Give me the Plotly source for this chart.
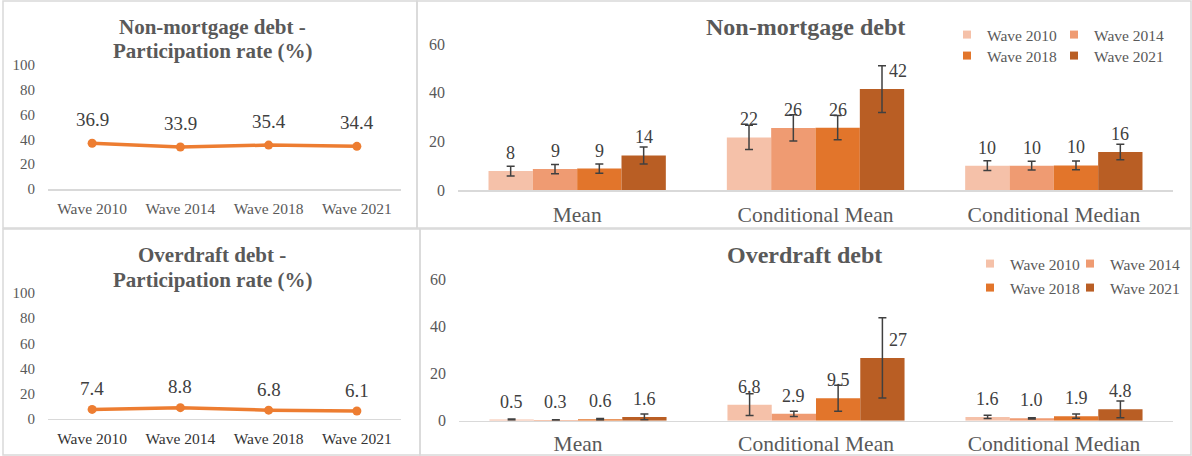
import plotly.graph_objects as go

W, H = 1192, 456

# ---------------- data ----------------
waves = ["Wave 2010", "Wave 2014", "Wave 2018", "Wave 2021"]
stat_categories = ["Mean", "Conditional Mean", "Conditional Median"]

nonmort_participation = [36.9, 33.9, 35.4, 34.4]
overdraft_participation = [7.4, 8.8, 6.8, 6.1]

# values[wave][category]
nonmort_values = [
    [7.8, 21.6, 10.0],
    [8.6, 25.5, 10.0],
    [8.8, 25.6, 10.1],
    [14.2, 41.5, 15.6],
]
nonmort_errors = [
    [2.0, 5.0, 2.0],
    [1.9, 5.4, 1.8],
    [1.9, 5.0, 1.8],
    [3.5, 9.6, 3.2],
]
overdraft_values = [
    [0.5, 6.8, 1.6],
    [0.3, 2.9, 1.0],
    [0.6, 9.5, 1.9],
    [1.6, 26.6, 4.8],
]
overdraft_errors = [
    [0.2, 4.6, 0.7],
    [0.1, 1.1, 0.3],
    [0.3, 5.5, 0.9],
    [1.2, 17.0, 3.5],
]

# ---------------- styles ----------------
FONT = "Liberation Serif"
wave_colors = ["#F5C1A9", "#EF9B72", "#E2752B", "#B95E24"]
LINE_COLOR = "#ED7D31"
TITLE_C = "#595959"
TICK_C = "#595959"
LABEL_C = "#404040"
BORDER_C = "#D9D9D9"
BAR_W = 0.186
label_xshift = {(3, 1): 16}  # (wave, category) -> px


def fx(px):
    return px / W


def fy(py):
    return 1 - py / H


fig = go.Figure()

# ---- line charts ----
for data, xa, ya in [(nonmort_participation, "x", "y"), (overdraft_participation, "x3", "y3")]:
    fig.add_trace(go.Scatter(
        x=waves, y=data, mode="lines+markers", xaxis=xa, yaxis=ya,
        line=dict(color=LINE_COLOR, width=3.5),
        marker=dict(color=LINE_COLOR, size=9),
        showlegend=False, hoverinfo="skip"))

annotations = []
for data, xr, yr, ysh in [(nonmort_participation, "x", "y", 23.5),
                          (overdraft_participation, "x3", "y3", 21)]:
    for w, v in zip(waves, data):
        annotations.append(dict(
            x=w, y=v, xref=xr, yref=yr, text=f"{v:.1f}", showarrow=False,
            yanchor="middle", yshift=ysh,
            font=dict(family=FONT, size=19, color=LABEL_C)))


def fmt_nm(v):
    return f"{v:.0f}"


def fmt_od(v):
    return f"{v:.0f}" if v >= 10 else f"{v:.1f}"


# ---- bar charts ----
for vals, errs, xa, ya, fmt in [
    (nonmort_values, nonmort_errors, "x2", "y2", fmt_nm),
    (overdraft_values, overdraft_errors, "x4", "y4", fmt_od),
]:
    for s, wave in enumerate(waves):
        xs = [c + (s - 1.5) * BAR_W for c in range(len(stat_categories))]
        fig.add_trace(go.Bar(
            x=xs, y=vals[s], width=BAR_W, xaxis=xa, yaxis=ya,
            marker=dict(color=wave_colors[s], line=dict(width=0)),
            error_y=dict(type="data", array=errs[s], color="#404040",
                         thickness=1.5, width=4),
            showlegend=False, hoverinfo="skip", name=wave))
        for c, (xv, v) in enumerate(zip(xs, vals[s])):
            annotations.append(dict(
                x=xv, y=v, xref=xa, yref=ya, text=fmt(v), showarrow=False,
                yanchor="middle", yshift=18, xshift=label_xshift.get((s, c), 0),
                font=dict(family=FONT, size=18, color=LABEL_C)))

fig.update_layout(barmode="overlay")

# ---- legends: one single-entry legend per wave and panel (2 x 2 grid) ----
legend_text_x = {"top": [988, 1095], "bottom": [1011, 1111]}
legend_row_y = {"top": [35, 56], "bottom": [264, 288]}
legend_layout = {}
n = 0
for panel, xa, ya in [("top", "x2", "y2"), ("bottom", "x4", "y4")]:
    for s, wave in enumerate(waves):
        n += 1
        lg = "legend" if n == 1 else f"legend{n}"
        fig.add_trace(go.Scatter(
            x=[None], y=[None], mode="markers", name=wave,
            marker=dict(symbol="square", size=8, color=wave_colors[s]),
            xaxis=xa, yaxis=ya, legend=lg, showlegend=True, hoverinfo="skip"))
        legend_layout[lg] = dict(
            x=fx(legend_text_x[panel][s % 2] - 41), y=fy(legend_row_y[panel][s // 2]),
            orientation="h", xanchor="left", yanchor="middle",
            bgcolor="rgba(0,0,0,0)", itemwidth=30,
            font=dict(family=FONT, size=15.5, color=TICK_C))
fig.update_layout(**legend_layout)

# ---- axes ----
def xcat_axis(dom, color, size):
    return dict(domain=dom, range=[-0.5, 3.5], type="category",
                showline=True, linecolor=BORDER_C, linewidth=1.5,
                ticks="", showgrid=False, zeroline=False, automargin=False,
                tickfont=dict(family=FONT, size=size, color=color),
                ticklabelstandoff=5, fixedrange=True)


def xbar_axis(dom, standoff):
    return dict(domain=dom, range=[-0.5, 2.5], tickvals=list(range(len(stat_categories))),
                ticktext=stat_categories, showline=True, linecolor=BORDER_C,
                linewidth=1.5, ticks="", showgrid=False, zeroline=False,
                automargin=False,
                tickfont=dict(family=FONT, size=21.5, color=TICK_C),
                ticklabelstandoff=standoff, fixedrange=True)


def y_axis(dom, rng, dtick, anchor, size):
    return dict(domain=dom, range=rng, dtick=dtick, anchor=anchor,
                showline=False, showgrid=False, zeroline=False, ticks="",
                automargin=False,
                tickfont=dict(family=FONT, size=size, color=TICK_C),
                ticklabelstandoff=12, fixedrange=True)


fig.update_layout(
    xaxis=dict(anchor="y", **xcat_axis([fx(48), fx(401)], TICK_C, 15.5)),
    yaxis=y_axis([fy(189), fy(65)], [0, 100], 20, "x", 15),
    xaxis2=dict(anchor="y2", **xbar_axis([fx(458), fx(1173)], 5)),
    yaxis2=y_axis([fy(190), fy(44)], [0, 60], 20, "x2", 16),
    xaxis3=dict(anchor="y3", **xcat_axis([fx(48), fx(401)], "#333333", 15.5)),
    yaxis3=y_axis([fy(418.7), fy(293)], [0, 100], 20, "x3", 15),
    xaxis4=dict(anchor="y4", **xbar_axis([fx(459), fx(1173)], 3)),
    yaxis4=y_axis([fy(420.7), fy(279)], [0, 60], 20, "x4", 16),
)

# ---- titles ----
titles = [
    ("Non-mortgage debt -", 212, 27, 21),
    ("Participation rate (%)", 212, 51, 21),
    ("Non-mortgage debt", 805, 27, 24),
    ("Overdraft debt -", 212, 255, 21),
    ("Participation rate (%)", 212, 280, 21),
    ("Overdraft debt", 804, 255, 24),
]
for t, cx, cy, sz in titles:
    annotations.append(dict(
        x=fx(cx), y=fy(cy), xref="paper", yref="paper", text=f"<b>{t}</b>",
        showarrow=False, xanchor="center", yanchor="middle",
        font=dict(family=FONT, size=sz, color=TITLE_C)))

# ---- panel borders ----
shapes = []
for x0, y0, x1, y1 in [(3, 1, 417, 228), (417, 1, 1191, 228),
                       (3, 229, 420, 455), (420, 229, 1191, 455)]:
    shapes.append(dict(type="rect", xref="paper", yref="paper",
                       x0=fx(x0), x1=fx(x1), y0=fy(y1), y1=fy(y0),
                       line=dict(color=BORDER_C, width=1.5)))

fig.update_layout(
    width=W, height=H,
    margin=dict(l=0, r=0, t=0, b=0, pad=0, autoexpand=False),
    paper_bgcolor="white", plot_bgcolor="white",
    annotations=annotations, shapes=shapes,
    font=dict(family=FONT),
)

page_fix = """
(function(){
  var s = document.createElement('style');
  s.textContent = 'html,body{margin:0!important;padding:0!important;overflow:hidden;}';
  document.head.appendChild(s);
})();
"""

fig.write_html(
    "out.html",
    config={"displayModeBar": False, "staticPlot": True},
    post_script=page_fix,
)
